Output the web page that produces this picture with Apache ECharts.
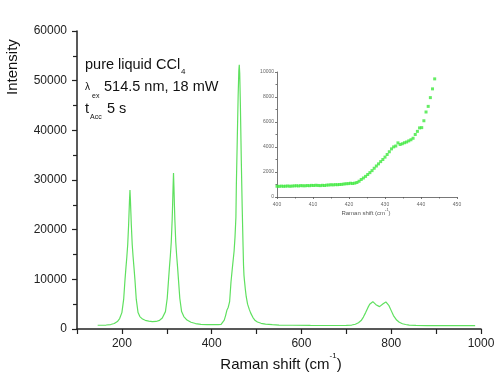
<!DOCTYPE html>
<html>
<head>
<meta charset="utf-8">
<script src="https://cdn.jsdelivr.net/npm/echarts@6/dist/echarts.min.js"></script>
<style>html,body{margin:0;padding:0;background:#fff}#c{width:500px;height:387px}</style>
</head>
<body>
<div id="c"></div>
<script>
// Main spectrum: Raman shift (cm^-1) and intensity
var mainShift = [146,155,165,175,183,190,195,200,204,207,209,211,213,215,216,217,218,219,220,221,223,225,227,229,232,236,240,246,252,260,268,276,284,290,297,301,304,306,308,310,312,313,314,315,316,317,318,320,322,324,326,329,333,338,345,354,364,376,390,405,415,421,425,428,431,434,437,440,443,446,450,452,454,455,457,459,460.5,461.5,462.5,464,466,468,470,471,472,473,475,477,480,484,487,492,497,502,510,520,535,550,580,620,660,700,712,720,727,733,738,743,748,752,756,759,762,766,770,774,778,782,785,788,791,795,800,805,812,818,825,832,840,855,880,920,960,987];
var mainInt   = [750,760,800,900,1100,1500,2100,3300,6000,10000,12300,14500,17000,21000,23500,26000,28000,26000,23500,21000,17000,14500,12300,10000,6000,3300,2500,2000,1750,1600,1470,1520,1750,2200,3500,6200,10000,12500,14800,17500,22000,25000,28500,31400,28500,25000,22000,17500,14800,12500,10000,6200,3500,2500,1800,1350,1100,950,880,880,900,950,1200,1800,2700,3800,4400,5500,9400,12200,15700,18500,22500,29000,38000,47000,52000,53200,51500,45000,34000,24500,16500,12800,10800,9800,8000,6500,5000,3900,3200,2300,1700,1400,1150,1000,870,800,760,720,700,720,800,950,1250,1700,2400,3300,4300,5000,5400,5500,5350,4900,4600,4500,4700,5100,5400,5450,5300,4700,3700,2700,1800,1350,1050,900,780,720,690,680,670,670];

// Inset: zoom on 400-450 cm^-1 region
var insetShift = [400.0,400.6,401.2,401.8,402.4,403.0,403.6,404.2,404.8,405.4,406.0,406.6,407.2,407.8,408.4,409.0,409.6,410.2,410.8,411.4,412.0,412.6,413.2,413.8,414.4,415.0,415.6,416.2,416.8,417.4,418.0,418.6,419.2,419.8,420.4,421.0,421.6,422.2,422.8,423.4,424.0,424.6,425.2,425.8,426.4,427.0,427.6,428.2,428.8,429.4,430.0,430.6,431.2,431.8,432.4,433.0,433.6,434.2,434.8,435.4,436.0,436.6,437.2,437.8,438.4,439.0,439.6,440.2,440.8,441.4,442.0,442.6,443.2,443.8];
var insetInt   = [860,850,870,855,865,880,860,875,890,900,885,910,900,895,915,905,930,920,940,925,910,935,920,950,960,980,970,990,985,1000,1010,1040,1060,1070,1100,1080,1110,1160,1260,1400,1520,1650,1800,1950,2110,2300,2480,2650,2830,3000,3190,3400,3620,3850,4010,4080,4330,4200,4260,4340,4400,4490,4580,4700,5000,5250,5530,5550,6100,6800,7250,7950,8650,9450];

// Tick settings
var mainXTicks = {min:100, max:1000, interval:100, labelEvery:200};
var mainYTicks = {min:0, max:60000, interval:10000};
var insetXTicks = {min:400, max:450, interval:10};
var insetYTicks = {min:0, max:10000, interval:2000};

var chart = echarts.init(document.getElementById('c'), null, {renderer:'canvas'});
var FONT = 'Liberation Sans, Arial, sans-serif';
function pairs(xs, ys){ return xs.map(function(x,i){return [x, ys[i]];}); }
function plain(v){ return String(v); }

var axisCol = '#222';
chart.setOption({
  animation:false,
  backgroundColor:'#fff',
  grid:[
    {left:77, right:19, top:31, bottom:58},
    {left:277, width:180, top:72, height:125}
  ],
  xAxis:[
    {gridIndex:0, type:'value', min:mainXTicks.min, max:mainXTicks.max, interval:mainXTicks.interval,
     axisLine:{show:true, onZero:false, lineStyle:{color:axisCol, width:1.5}},
     axisTick:{show:true, length:5, lineStyle:{color:axisCol, width:1.2}},
     splitLine:{show:false},
     axisLabel:{fontSize:12, color:'#222', fontFamily:FONT, margin:9,
       formatter:function(v){ return (v % mainXTicks.labelEvery === 0) ? String(v) : ''; }}},
    {gridIndex:1, type:'value', min:insetXTicks.min, max:insetXTicks.max, interval:insetXTicks.interval,
     axisLine:{show:true, onZero:false, lineStyle:{color:'#555', width:0.8}},
     axisTick:{show:true, length:2, lineStyle:{color:'#555', width:0.8}},
     minorTick:{show:true, splitNumber:2, length:1.5, lineStyle:{color:'#555', width:0.8}},
     splitLine:{show:false},
     axisLabel:{fontSize:5, color:'#666', fontFamily:FONT, margin:5, formatter:plain}}
  ],
  yAxis:[
    {gridIndex:0, type:'value', min:mainYTicks.min, max:mainYTicks.max, interval:mainYTicks.interval,
     axisLine:{show:true, lineStyle:{color:axisCol, width:1.5}},
     axisTick:{show:true, length:5, lineStyle:{color:axisCol, width:1.2}},
     minorTick:{show:true, splitNumber:2, length:4, lineStyle:{color:axisCol, width:1.2}},
     splitLine:{show:false},
     axisLabel:{fontSize:12, color:'#222', fontFamily:FONT, margin:10, formatter:plain}},
    {gridIndex:1, type:'value', min:insetYTicks.min, max:insetYTicks.max, interval:insetYTicks.interval,
     axisLine:{show:true, lineStyle:{color:'#555', width:0.8}},
     axisTick:{show:true, length:2, lineStyle:{color:'#555', width:0.8}},
     minorTick:{show:true, splitNumber:2, length:1.5, lineStyle:{color:'#555', width:0.8}},
     splitLine:{show:false},
     axisLabel:{fontSize:5, color:'#666', fontFamily:FONT, margin:3, formatter:plain}}
  ],
  series:[
    {type:'line', xAxisIndex:0, yAxisIndex:0, data:pairs(mainShift, mainInt), showSymbol:false, symbol:'none',
     lineStyle:{color:'#5fe05f', width:1.2}, smooth:false},
    {type:'scatter', xAxisIndex:1, yAxisIndex:1, data:pairs(insetShift, insetInt), symbol:'rect', symbolSize:3,
     itemStyle:{color:'#3fe83f'}}
  ],
  graphic:[
    {type:'text', left:85, top:57, style:{text:'pure liquid CCl', fontSize:14.5, fill:'#111', fontFamily:FONT}},
    {type:'text', left:181, top:68, style:{text:'4', fontSize:8, fill:'#111', fontFamily:FONT}},
    {type:'text', left:85, top:82, style:{text:'\u03bb', fontSize:10, fill:'#111', fontFamily:FONT}},
    {type:'text', left:92, top:93, style:{text:'ex', fontSize:7, fill:'#111', fontFamily:FONT}},
    {type:'text', left:104, top:79, style:{text:'514.5 nm, 18 mW', fontSize:14.5, fill:'#111', fontFamily:FONT}},
    {type:'text', left:85, top:101, style:{text:'t', fontSize:14.5, fill:'#111', fontFamily:FONT}},
    {type:'text', left:90, top:114, style:{text:'Acc', fontSize:7, fill:'#111', fontFamily:FONT}},
    {type:'text', left:107, top:101, style:{text:'5 s', fontSize:14.5, fill:'#111', fontFamily:FONT}},
    {type:'text', x:5, y:95, rotation:Math.PI/2, style:{text:'Intensity', fontSize:15, fill:'#111', fontFamily:FONT, align:'left', verticalAlign:'top'}},
    {type:'text', x:281, y:362, style:{text:'{a|Raman shift (cm}{s|-1}{a|)}', align:'center', verticalAlign:'middle',
      rich:{a:{fontSize:15, fill:'#111', fontFamily:FONT, lineHeight:20, verticalAlign:'bottom'}, s:{fontSize:8, fill:'#111', fontFamily:FONT, lineHeight:20, verticalAlign:'top'}}}},
    {type:'text', x:366, y:212, style:{text:'{a|Raman shift (cm}{s|-1}{a|)}', align:'center', verticalAlign:'middle',
      rich:{a:{fontSize:6, fill:'#555', fontFamily:FONT, lineHeight:8, verticalAlign:'bottom'}, s:{fontSize:4, fill:'#555', fontFamily:FONT, lineHeight:8, verticalAlign:'top'}}}}
  ]
});
</script>
</body>
</html>
